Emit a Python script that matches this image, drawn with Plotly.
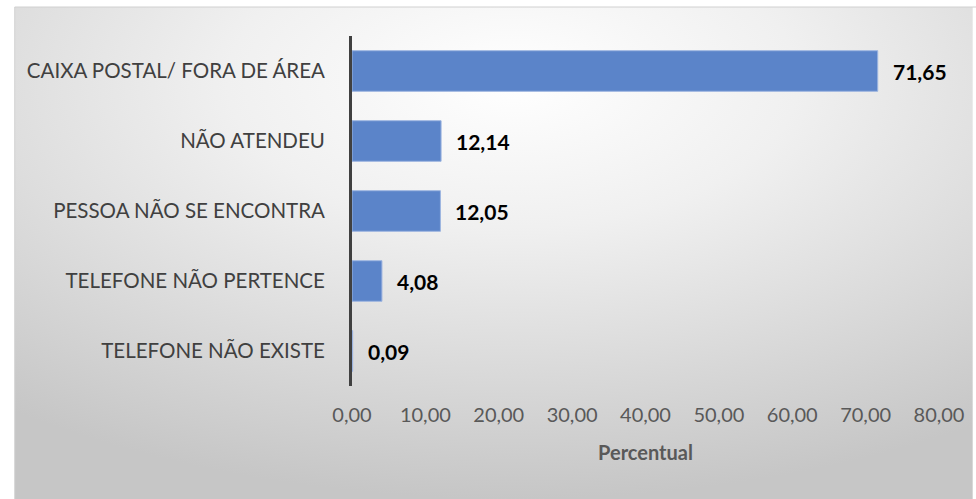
import plotly.graph_objects as go
import urllib.parse

categories = ["CAIXA POSTAL/ FORA DE ÁREA", "NÃO ATENDEU", "PESSOA NÃO SE ENCONTRA",
              "TELEFONE NÃO PERTENCE", "TELEFONE NÃO EXISTE"]
values = [71.65, 12.14, 12.05, 4.08, 0.09]
x_ticks = [0, 10, 20, 30, 40, 50, 60, 70, 80]

W, H = 976, 499
L, R, T, B = 352, 34, 36, 113
pw, ph = W - L - R, H - T - B

def px_x(p):
    return (p - L) / pw

def px_y(p):
    return 1 + (T - p) / ph

box_l, box_t, box_r, box_b = 13, 7, 976, 499

svg = ('<svg xmlns="http://www.w3.org/2000/svg" width="1000" height="500" viewBox="0 0 1000 500" preserveAspectRatio="none">'
       '<defs><radialGradient id="g" cx="0.52" cy="0.15" r="0.85" fx="0.52" fy="0.15">'
       '<stop offset="0" stop-color="#ffffff"/><stop offset="0.35" stop-color="#f0f0f0"/>'
       '<stop offset="1" stop-color="#c6c6c6"/></radialGradient></defs>'
       '<rect x="0" y="0" width="1000" height="500" fill="url(#g)"/></svg>')
src = "data:image/svg+xml;charset=utf-8," + urllib.parse.quote(svg)

FONT = "Lato, Liberation Sans, sans-serif"

fig = go.Figure()
fig.add_trace(go.Bar(
    x=values, y=categories, orientation="h",
    marker=dict(color="#5B84C9", line=dict(color="#9DB5E0", width=1)),
    hoverinfo="skip",
))

for v, c in zip(values, categories):
    fig.add_annotation(x=v, y=c, text="<b>" + f"{v:.2f}".replace(".", ",") + "</b>",
                       xanchor="left", yanchor="middle", xshift=13, showarrow=False,
                       font=dict(family=FONT, size=21, color="#000000"))

fig.update_layout(
    width=W, height=H,
    margin=dict(l=L, r=R, t=T, b=B),
    paper_bgcolor="#ffffff",
    plot_bgcolor="rgba(0,0,0,0)",
    separators=",.",
    bargap=0.42,
    showlegend=False,
    font=dict(family=FONT),
    images=[dict(source=src, xref="paper", yref="paper",
                 x=px_x(box_l), y=px_y(box_t),
                 sizex=px_x(box_r) - px_x(box_l), sizey=px_y(box_t) - px_y(box_b),
                 xanchor="left", yanchor="top", sizing="stretch", layer="below")],
    shapes=[dict(type="rect", xref="paper", yref="paper",
                 x0=px_x(box_l), x1=px_x(box_r) + 0.01, y0=px_y(box_b) - 0.01, y1=px_y(box_t),
                 line=dict(color="#d0d0d0", width=1), fillcolor="rgba(0,0,0,0)", layer="below")],
    xaxis=dict(range=[0, 80], tickvals=x_ticks, tickformat=".2f",
               showgrid=False, zeroline=False, showline=False,
               ticks="outside", ticklen=11, tickcolor="rgba(0,0,0,0)",
               tickfont=dict(size=20, color="#595959"),
               title=dict(text="<b>Percentual</b>", standoff=20,
                          font=dict(size=20, color="#595959"))),
    yaxis=dict(autorange="reversed", showgrid=False, zeroline=False,
               showline=True, linecolor="#404040", linewidth=3,
               ticks="outside", ticklen=20, tickcolor="rgba(0,0,0,0)",
               tickfont=dict(size=20.5, color="#404040")),
)

fig.write_html("out.html", config={"displayModeBar": False},
               post_script="document.body.style.margin='0';document.body.style.overflow='hidden';")
